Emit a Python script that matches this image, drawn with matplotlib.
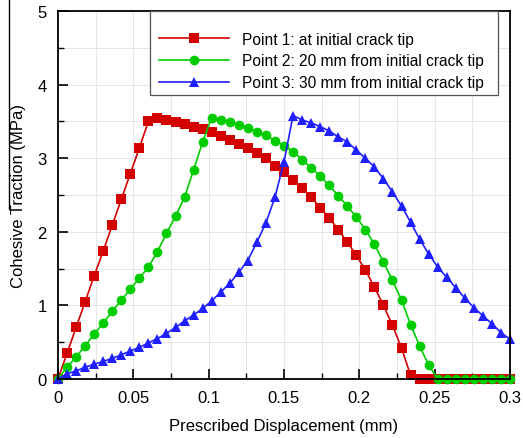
import numpy as np
import matplotlib
matplotlib.use("Agg")
import matplotlib.pyplot as plt
from matplotlib.lines import Line2D
from matplotlib.patches import Rectangle
from matplotlib.ticker import MultipleLocator

plt.rcParams['font.family'] = ['Liberation Sans', 'DejaVu Sans']

displacement = [round(0.006 * i, 3) for i in range(51)]

point1 = [0, 0.35, 0.70, 1.05, 1.40, 1.74, 2.09, 2.44, 2.79, 3.14,
          3.50, 3.55, 3.52, 3.49, 3.46, 3.43, 3.39, 3.35, 3.30, 3.25,
          3.19, 3.14, 3.07, 3.00, 2.90, 2.81, 2.70, 2.60, 2.47, 2.33,
          2.19, 2.03, 1.86, 1.68, 1.48, 1.25, 1.00, 0.73, 0.42, 0.05,
          0, 0, 0, 0, 0, 0, 0, 0, 0, 0, 0]
point2 = [0, 0.16, 0.30, 0.45, 0.61, 0.76, 0.92, 1.07, 1.22, 1.37,
          1.52, 1.73, 1.98, 2.21, 2.47, 2.84, 3.22, 3.55, 3.52, 3.49,
          3.45, 3.41, 3.36, 3.31, 3.24, 3.17, 3.09, 2.98, 2.87, 2.76,
          2.63, 2.49, 2.35, 2.20, 2.03, 1.83, 1.59, 1.34, 1.07, 0.74,
          0.45, 0.19, 0, 0, 0, 0, 0, 0, 0, 0, 0]
point3 = [0, 0.07, 0.11, 0.16, 0.20, 0.24, 0.28, 0.33, 0.38, 0.43,
          0.49, 0.55, 0.62, 0.70, 0.79, 0.87, 0.96, 1.06, 1.18, 1.30,
          1.45, 1.61, 1.86, 2.12, 2.47, 2.95, 3.58, 3.52, 3.48, 3.43,
          3.37, 3.29, 3.22, 3.11, 3.00, 2.88, 2.72, 2.54, 2.35, 2.13,
          1.90, 1.70, 1.52, 1.38, 1.24, 1.10, 0.97, 0.86, 0.75, 0.63,
          0.54]

labels = ["Point 1: at initial crack tip",
          "Point 2: 20 mm from initial crack tip",
          "Point 3: 30 mm from initial crack tip"]
colors = ["#d40000", "#00cc00", "#1f1fff"]
markers = ["s", "o", "^"]
msizes = [6.8, 7, 7.5]

fig = plt.figure(figsize=(5.23, 4.39), dpi=100)
ax = fig.add_axes([58/523, (439-380)/439, (510-58)/523, (380-12)/439])

for ys, lab, c, m, ms in zip([point1, point2, point3], labels, colors, markers, msizes):
    ax.plot(displacement, ys, color=c, marker=m, markersize=ms, lw=1.2,
            markeredgewidth=0, label=lab, clip_on=False)

ax.set_xlim(0, 0.3)
ax.set_ylim(0, 5)
ax.xaxis.set_minor_locator(MultipleLocator(0.025))
ax.yaxis.set_major_locator(MultipleLocator(1))
ax.yaxis.set_minor_locator(MultipleLocator(0.5))
ax.set_xticks([0, 0.05, 0.1, 0.15, 0.2, 0.25, 0.3])
ax.set_xticklabels(["0", "0.05", "0.1", "0.15", "0.2", "0.25", "0.3"])
ax.tick_params(which='both', direction='in', labelsize=12, color='black')
ax.tick_params(which='major', length=7, width=1.2)
ax.tick_params(which='minor', length=4, width=1.0)
ax.tick_params(axis='x', pad=8)
ax.tick_params(axis='y', pad=8)
ax.grid(which='both', color='#e6e6e6', lw=0.7, ls='-')
ax.set_axisbelow(True)
for s in ax.spines.values():
    s.set_linewidth(1.3)

ax.set_xlabel("Prescribed Displacement (mm)", fontsize=12, labelpad=9)
ax.set_ylabel("Cohesive Traction (MPa)", fontsize=12, labelpad=8)

# legend frame drawn separately so the entries can sit where the reference has them
frame = Rectangle(((150-58)/452, (380-96)/368), (498-150)/452, (96-12)/368,
                  transform=ax.transAxes, facecolor='white', edgecolor='#555555',
                  lw=0.9, zorder=4, clip_on=False)
ax.add_patch(frame)
leg = ax.legend(loc='upper left', bbox_to_anchor=((141-58)/452, 1.0 - 3/368),
                borderaxespad=0, fontsize=11.2, handlelength=4.5,
                handletextpad=0.83, borderpad=1.15, labelspacing=0.42,
                frameon=False)
leg.set_zorder(5)
for h in leg.legend_handles:
    h.set_markersize(7)

fig.add_artist(Line2D([9/523, 9/523], [1.0, 1 - 210/439], color='black', lw=1.0,
                      transform=fig.transFigure))

fig.savefig("out.png", dpi=100)
